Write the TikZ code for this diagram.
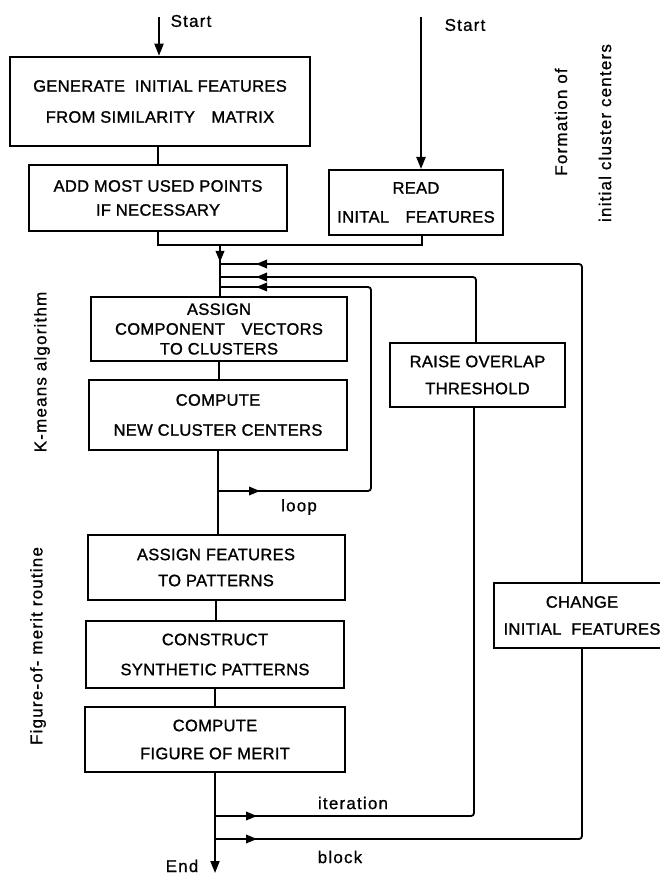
\documentclass[tikz,border=0pt]{standalone}
\usepackage{fontspec}
\setmainfont{Liberation Sans}[LetterSpace=2,FakeBold=1.2]
\newfontfamily\labelfont{Liberation Sans}[LetterSpace=7,FakeBold=0.8]
\usetikzlibrary{arrows.meta,decorations.markings}

\tikzset{
  procbox/.style={draw, line width=2pt, inner sep=0pt, align=center,
    font=\fontsize{16.5}{19.8}\selectfont},
  wire/.style={line width=1.8pt, rounded corners=3pt},
  tipend/.style={-{Triangle[length=12pt,width=9pt]}},
  midtip/.style={postaction={decorate}, decoration={markings,
    mark=at position #1 with {\arrow{Triangle[length=11pt,width=8.5pt]}}}},
  midtips/.style 2 args={postaction={decorate}, decoration={markings,
    mark=at position #1 with {\arrow{Triangle[length=11pt,width=8.5pt]}},
    mark=at position #2 with {\arrow{Triangle[length=11pt,width=8.5pt]}}}},
  lbl/.style={font=\labelfont\fontsize{17}{20}\selectfont, inner sep=0pt},
  sidelbl/.style={lbl, rotate=90}
}

\begin{document}
\begin{tikzpicture}[x=1pt,y=-1pt]
\useasboundingbox (0,0) rectangle (660,874);
\clip (0,0) rectangle (660,874);
\fill[white] (0,0) rectangle (660,874);

% ---- formation of initial cluster centers
\node[procbox, line width=2.5pt, minimum width=300pt, minimum height=89pt] (gen) at (160,101.5)
  {GENERATE\ \ INITIAL FEATURES\\[11.2pt]FROM SIMILARITY\quad MATRIX};
\node[procbox, minimum width=258pt, minimum height=66pt] (add) at (158,198)
  {ADD MOST USED POINTS\\[4.2pt]IF NECESSARY};
\node[procbox, minimum width=174pt, minimum height=65pt] (read) at (416,202.5)
  {READ\\[9.2pt]INITAL\quad FEATURES};

% ---- K-means algorithm
\node[procbox, minimum width=256pt, minimum height=64pt] (assign) at (219,329)
  {ASSIGN\\[0pt]COMPONENT\quad VECTORS\\[0pt]TO CLUSTERS};
\node[procbox, minimum width=258pt, minimum height=70pt] (center) at (218,415)
  {COMPUTE\\[10.2pt]NEW CLUSTER CENTERS};
\node[procbox, minimum width=175pt, minimum height=64pt] (raise) at (477.5,375)
  {RAISE OVERLAP\\[7.2pt]THRESHOLD};

% ---- figure-of-merit routine
\node[procbox, minimum width=257pt, minimum height=65pt] (pat) at (216,567.5)
  {ASSIGN FEATURES\\[6.2pt]TO PATTERNS};
\node[procbox, minimum width=258pt, minimum height=67pt] (synth) at (215,654.5)
  {CONSTRUCT\\[10.2pt]SYNTHETIC PATTERNS};
\node[procbox, minimum width=260pt, minimum height=65pt] (merit) at (215,739.5)
  {COMPUTE\\[8.2pt]FIGURE OF MERIT};
\node[procbox, minimum width=176pt, minimum height=65pt] (change) at (582,615.5)
  {CHANGE\\[7.2pt]INITIAL\ \ FEATURES};

% ---- start points, junctions and loop ends
\coordinate (s1) at (159,17);
\coordinate (s2) at (421,17);
\coordinate (jm) at (220,245);
\coordinate (jr) at (422,245);
\coordinate (fbblock) at (220,264);
\coordinate (fbiter) at (220,277);
\coordinate (fbloop) at (220,287);
\coordinate (lp) at (218,491);
\coordinate (lr) at (371,491);
\coordinate (it) at (215,816);
\coordinate (bl) at (215,839);
\coordinate (fin) at (215,873);

% ---- connectors
\draw[wire, tipend] (s1) -- (s1 |- gen.north);
\draw[wire, tipend, line width=2.1pt] (s2) -- (s2 |- read.north);
\draw[wire] (add.north |- gen.south) -- (add.north);
\draw[wire, rounded corners=0pt] (add.south) |- (jr) -- (jr |- read.south);
\draw[wire, midtip=17pt] (jm) -- (jm |- assign.north);

\draw[wire, midtip=-36pt] (change.north) |- (fbblock);
\draw[wire, midtip=-36pt] (raise.north -| 476,0) |- (fbiter);
\draw[wire, midtips={42pt}{-36pt}] (lp) -- (lr) |- (fbloop);

\draw[wire] (assign.south) -- (assign.south |- center.north);
\draw[wire] (center.south) -- (center.south |- pat.north);
\draw[wire] (pat.south) -- (pat.south |- synth.north);
\draw[wire] (synth.south) -- (synth.south |- merit.north);
\draw[wire, tipend] (merit.south) -- (fin);

\draw[wire, midtip=42pt] (it) -| (raise.south -| 474,0);
\draw[wire, midtip=42pt] (bl) -| (change.south);

% ---- labels
\node[lbl] (st1) at (191,21) {Start};
\node[lbl] (st2) at (465,25) {Start};
\node[lbl] (lloop) at (299,507) {loop};
\node[lbl] (liter) at (353,803) {iteration};
\node[lbl] (lblock) at (340,857) {block};
\node[lbl, anchor=base] (lend) at (182,872) {End};

\node[sidelbl] (sf1) at (561,122) {Formation of};
\node[sidelbl] (sf2) at (605,133) {initial cluster centers};
\node[sidelbl] (sk) at (42,372) {K-means algorithm};
\node[sidelbl] (sm) at (38,646) {Figure-of- merit routine};
\end{tikzpicture}
\end{document}
